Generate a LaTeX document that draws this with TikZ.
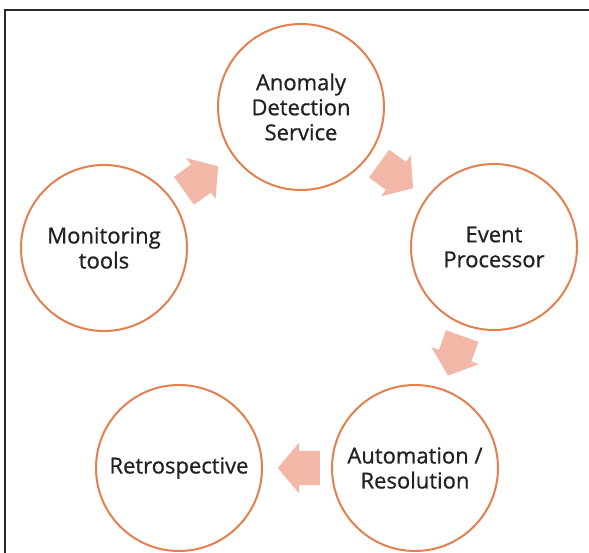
\documentclass[tikz,border=0pt]{standalone}
\usepackage{fontspec}
\setmainfont{Open Sans}
\newfontfamily\stagefont{Open Sans}[FakeBold=0.8]
\usetikzlibrary{calc,shapes.arrows}
\definecolor{cRing}{HTML}{E2804F}
\definecolor{cFlow}{HTML}{F3B7A7}
\definecolor{cText}{HTML}{222222}
\definecolor{cFrame}{HTML}{2A2A2A}
\tikzset{
  stage/.style={circle, draw=cRing, line width=2pt, fill=white,
                minimum size=166pt, inner sep=0pt, align=center,
                text=cText, font=\stagefont\fontsize{22}{25}\selectfont},
  flow/.style={single arrow, fill=cFlow, draw=none,
               inner xsep=0pt, inner ysep=17pt, minimum height=42pt,
               single arrow head extend=8pt, single arrow tip angle=100},
}
% block arrow halfway between two stages, turned along the line joining them
\newcommand{\flowbetween}[3]{%
  \path let \p1=($(#2)-(#1)$), \n1={atan2(\y1,\x1)} in
    node[flow, rotate=\n1, xshift=-9pt] (#3) at ($(#1)!0.5!(#2)$) {};}

\begin{document}
\begin{tikzpicture}[x=1pt, y=-1pt]
    \useasboundingbox (0,0) rectangle (589,553);
    \fill[white] (0,0) rectangle (589,553);
    \draw[cFrame, line width=1.5pt] (5,553) -- (5,10) -- (589,10);

    % --- stages ---
    \node[stage] (ads)  at (301,107) {Anomaly\\Detection\\Service};
    \node[stage] (evp)  at (494,247) {Event\\Processor};
    \node[stage] (auto) at (415,468) {Automation /\\Resolution};
    \node[stage] (retro) at (179,468) {Retrospective};
    \node[stage] (mon)  at (104,248) {Monitoring\\tools};

    % --- flow ---
    \flowbetween{mon}{ads}{f1}
    \flowbetween{ads}{evp}{f2}
    \flowbetween{evp}{auto}{f3}
    \flowbetween{auto}{retro}{f4}
\end{tikzpicture}
\end{document}
